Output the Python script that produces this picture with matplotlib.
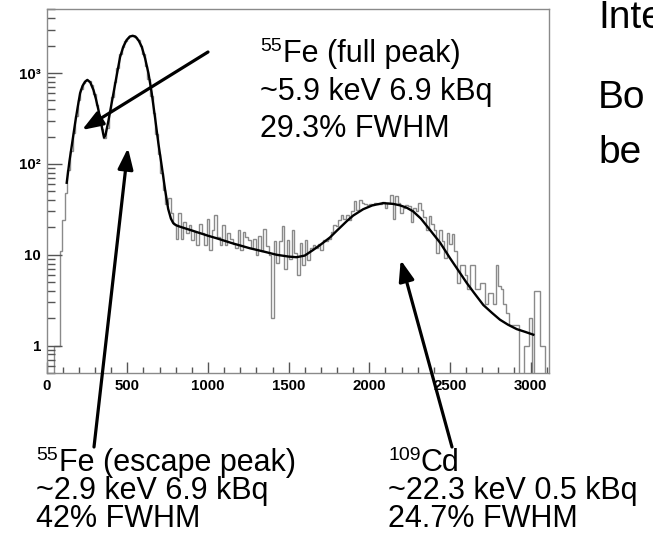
import numpy as np
import matplotlib
matplotlib.use('Agg')
import matplotlib.pyplot as plt
from matplotlib.ticker import FixedLocator, MultipleLocator, LogLocator, NullFormatter, FixedFormatter

W, H = 653, 534

# ---------------- data ----------------
bin_width = 16
counts = [
    0, 0, 0, 1, 1, 11, 24, 48, 85, 140,                      # 0-159
    220, 340, 500, 660, 770, 830, 820, 730, 590, 450,        # 160-319
    330, 240, 195, 250, 370, 540, 800, 1150, 1600, 1950,     # 320-479
    2250, 2450, 2560, 2580, 2500, 2300, 2000, 1600, 1200, 850,  # 480-639
    560, 360, 215, 130, 80, 52, 36, 42, 29, 22,              # 640-799
    15, 29, 15, 23, 17.5, 21, 14.6, 18, 12.8, 22,            # 800-959
    17.5, 12.8, 24.8, 11.3, 18.5, 27.5, 15.8, 12.8, 21, 12.8,  # 960-1119
    17.5, 15, 13, 11.8, 18.5, 11.3, 18, 15.8, 14.6, 12,      # 1120-1279
    14.8, 10, 16, 11, 19, 12.5, 10, 2, 14, 8.2,              # 1280-1439
    14, 20.5, 7, 14.5, 9, 18.6, 10.5, 6, 13.5, 7.8,          # 1440-1599
    14.5, 8.8, 11.8, 12.8, 12, 13, 11.3, 14.5, 14, 15,       # 1600-1759
    18, 21.5, 20.5, 24, 27.5, 25, 27.5, 24, 30, 39,          # 1760-1919
    31, 40, 37, 36, 35, 36, 35, 37, 36, 36,                  # 1920-2079
    38, 33, 37, 45, 25, 44, 37, 29, 33, 35,                  # 2080-2239
    34, 23, 33, 30, 37, 31, 26, 18.6, 27, 22,                # 2240-2399
    18.6, 10.5, 18.6, 14, 9.1, 17.5, 13, 17, 11, 4.9,        # 2400-2559
    7.8, 7.8, 6, 4.2, 7.8, 7.8, 4.2, 4.2, 4.9, 4.9,          # 2560-2719
    2.9, 3.8, 3.8, 2.9, 7.8, 4.5, 4.2, 2.9, 2.3, 1.7,        # 2720-2879
    1.7, 1.7, 1.7, 0, 0, 1, 1, 2, 0, 4,                      # 2880-3039
    4, 1, 1, 0, 0, 2,                                        # 3040-3119
]
edges = np.arange(len(counts) + 1) * bin_width

fit_x = [124, 141, 160, 176, 192, 207, 222, 237, 252, 270, 290, 305, 321, 338,
         350, 356, 365, 383, 400, 414, 430, 455, 475, 495, 515, 533, 550, 570,
         589, 610, 631, 650, 672, 692, 713, 734, 753, 770, 784, 800, 825, 900,
         1000, 1053, 1150, 1259, 1350, 1425, 1500, 1549, 1600, 1652, 1700, 1756,
         1800, 1859, 1900, 1962, 2020, 2086, 2148, 2190, 2231, 2272, 2320, 2376,
         2440, 2500, 2550, 2604, 2650, 2707, 2760, 2810, 2860, 2914, 2965, 3017]
fit_y = [62, 107, 180, 280, 420, 600, 720, 800, 840, 790, 650, 520, 390, 280,
         215, 195, 210, 300, 440, 600, 860, 1500, 1950, 2300, 2520, 2570, 2520, 2280,
         1950, 1450, 990, 620, 320, 170, 95, 52, 32, 25, 22.4, 21.2, 20.4, 18.5,
         16.2, 15.2, 13.4, 11.8, 10.8, 10.0, 9.55, 9.4, 9.8, 11.3, 13.0, 15.5,
         18.5, 23.3, 27, 31.7, 35, 37, 36.3, 35, 33, 30, 25, 18.8,
         13.5, 9.2, 6.8, 4.9, 3.8, 2.8, 2.3, 1.93, 1.7, 1.52, 1.42, 1.32]

x_ticks = [0, 500, 1000, 1500, 2000, 2500, 3000]
x_tick_labels = ['0', '500', '1000', '1500', '2000', '2500', '3000']
y_ticks = [1, 10, 100, 1000]
y_tick_labels = ['1', '10', '10²', '10³']

# ---------------- figure ----------------
plt.rcParams['font.family'] = ['Liberation Sans', 'DejaVu Sans']
fig = plt.figure(figsize=(W / 100, H / 100), dpi=100)
fig.patch.set_facecolor('white')

ax_l, ax_r, ax_t, ax_b = 46.7, 549.3, 9.5, 373.0
ax = fig.add_axes([ax_l / W, (H - ax_b) / H, (ax_r - ax_l) / W, (ax_b - ax_t) / H])

c = np.asarray(counts, dtype=float)
ax.stairs(np.where(c > 0, c, 1e-3), edges, color='#8a8a8a', lw=1.0, baseline=None)
ax.plot(fit_x, fit_y, color='black', lw=1.7)

ax.set_yscale('log')
ax.set_xlim(0, 3116)
ax.set_ylim(0.5, 5000)

ax.xaxis.set_major_locator(FixedLocator(x_ticks))
ax.xaxis.set_major_formatter(FixedFormatter(x_tick_labels))
ax.xaxis.set_minor_locator(MultipleLocator(100))
ax.yaxis.set_major_locator(FixedLocator(y_ticks))
ax.yaxis.set_major_formatter(FixedFormatter(y_tick_labels))
ax.yaxis.set_minor_locator(LogLocator(base=10, subs=range(2, 10)))
ax.yaxis.set_minor_formatter(NullFormatter())

tick_col = '#555555'
ax.tick_params(axis='x', which='major', direction='in', length=8, width=1,
               color=tick_col, labelsize=10.8, pad=4, top=False)
ax.tick_params(axis='x', which='minor', direction='in', length=4, width=1,
               color=tick_col, top=False)
ax.tick_params(axis='y', which='major', direction='in', length=11, width=1,
               color=tick_col, labelsize=10.8, pad=4, right=False)
ax.tick_params(axis='y', which='minor', direction='in', length=5.5, width=1,
               color=tick_col, right=False)
for lab in ax.get_xticklabels() + ax.get_yticklabels():
    lab.set_fontweight('bold')
for s in ax.spines.values():
    s.set_color('#8a8a8a')
    s.set_linewidth(1.0)


def fx(x):
    return x / W


def fyy(y):
    return 1 - y / H


big = 22
sup = 14


def label(x_sup, x_main, y_base, sup_txt, main_txt):
    if sup_txt:
        fig.text(fx(x_sup), fyy(y_base - 11), sup_txt, fontsize=sup, va='baseline', ha='left')
    fig.text(fx(x_main), fyy(y_base), main_txt, fontsize=big, va='baseline', ha='left')


# full peak text
label(260, 283, 62, '55', 'Fe (full peak)')
label(0, 260, 100, '', '~5.9 keV 6.9 kBq')
label(0, 260, 137, '', '29.3% FWHM')

# escape peak text
label(36, 59, 471, '55', 'Fe (escape peak)')
label(0, 36, 499, '', '~2.9 keV 6.9 kBq')
label(0, 36, 527, '', '42% FWHM')

# Cd text
label(388, 421, 471, '109', 'Cd')
label(0, 388, 499, '', '~22.3 keV 0.5 kBq')
label(0, 388, 527, '', '24.7% FWHM')

# slide text on the right
fig.text(fx(598), fyy(28), 'Inte', fontsize=28, va='baseline', ha='left')
fig.text(fx(598), fyy(108), 'Bo', fontsize=28, va='baseline', ha='left')
fig.text(fx(598), fyy(163), 'be', fontsize=28, va='baseline', ha='left')


def arrow(x0, y0, x1, y1):
    ax.annotate('', xy=(x1, H - y1), xytext=(x0, H - y0),
                xycoords='figure pixels', textcoords='figure pixels',
                arrowprops=dict(arrowstyle='-|>,head_length=0.9,head_width=0.33',
                                lw=2.3, color='black', shrinkA=0, shrinkB=0,
                                mutation_scale=14),
                annotation_clip=False)


arrow(208, 52, 82, 130)
arrow(94, 447, 128, 148)
arrow(452, 447, 400.7, 260)

fig.savefig('out.png', dpi=100)
